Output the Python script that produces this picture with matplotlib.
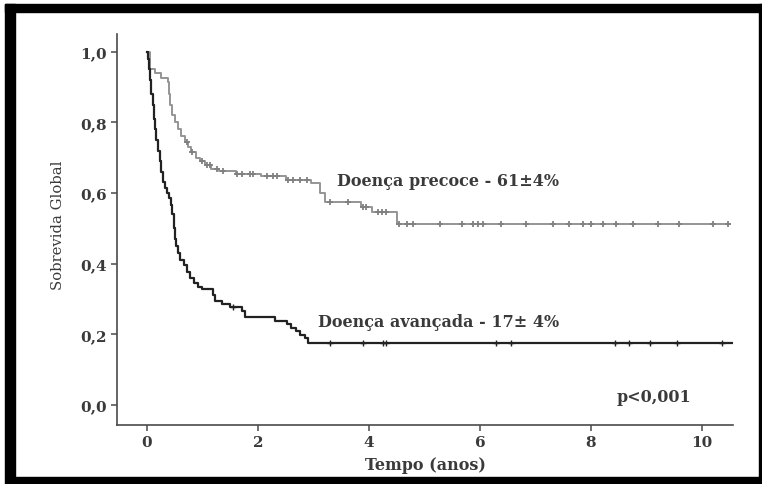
import numpy as np
import matplotlib.pyplot as plt
from matplotlib.patches import Rectangle

### data ###
# Doenca precoce (gray curve): step times (anos) and survival after each step
prec_t = [0.0, 0.05, 0.15, 0.25, 0.38, 0.40, 0.42, 0.45, 0.50, 0.56, 0.62, 0.68, 0.74, 0.80, 0.88,
          0.95, 1.05, 1.15, 1.30, 1.60, 2.05, 2.50, 2.95, 3.12, 3.20, 3.85, 4.05, 4.50, 10.5]
prec_s = [1.0, 0.95, 0.94, 0.925, 0.915, 0.88, 0.85, 0.82, 0.80, 0.78, 0.76, 0.745, 0.73, 0.717, 0.70,
          0.69, 0.68, 0.668, 0.662, 0.655, 0.648, 0.636, 0.628, 0.60, 0.575, 0.56, 0.547, 0.513, 0.513]
prec_cens = [0.72, 0.81, 0.99, 1.08, 1.14, 1.26, 1.37, 1.62, 1.71, 1.86, 1.91, 2.16, 2.27, 2.34, 2.54,
             2.63, 2.76, 2.88, 3.30, 3.62, 3.90, 3.95, 4.16, 4.23, 4.30, 4.54, 4.68, 4.79, 5.28, 5.68,
             5.87, 5.96, 6.05, 6.38, 6.83, 7.32, 7.60, 7.86, 8.00, 8.22, 8.45, 8.76, 9.21, 9.59, 10.2, 10.47]

# Doenca avancada (black curve)
avan_t = [0.0, 0.02, 0.04, 0.06, 0.08, 0.10, 0.12, 0.14, 0.17, 0.20, 0.23, 0.26, 0.29, 0.32, 0.36,
          0.40, 0.44, 0.46, 0.48, 0.50, 0.53, 0.56, 0.60, 0.66, 0.72, 0.78, 0.85, 0.92, 1.00, 1.19,
          1.23, 1.35, 1.50, 1.72, 1.77, 2.30, 2.52, 2.60, 2.68, 2.76, 2.84, 2.90, 10.56]
avan_s = [1.0, 0.98, 0.95, 0.92, 0.88, 0.85, 0.81, 0.78, 0.75, 0.72, 0.69, 0.66, 0.63, 0.615, 0.60,
          0.585, 0.565, 0.54, 0.50, 0.47, 0.45, 0.43, 0.41, 0.395, 0.377, 0.36, 0.345, 0.335, 0.328, 0.31,
          0.295, 0.286, 0.278, 0.265, 0.25, 0.238, 0.228, 0.218, 0.208, 0.198, 0.188, 0.176, 0.176]
avan_cens = [1.55, 3.30, 3.90, 4.25, 4.30, 6.29, 6.56, 8.43, 8.68, 9.06, 9.55, 10.36]

xticks = [0, 2, 4, 6, 8, 10]
yticks = [0.0, 0.2, 0.4, 0.6, 0.8, 1.0]
ylabels = ['0,0', '0,2', '0,4', '0,6', '0,8', '1,0']


def step_value(times, surv, t):
    i = np.searchsorted(times, t, side='right') - 1
    return np.array(surv)[i]


### plot ###
plt.rcParams['font.family'] = 'DejaVu Serif'
txtc = '#3a3a3a'

fig = plt.figure(figsize=(7.62, 4.85), dpi=100)
ax = fig.add_axes([117/762, 59/485, 616/762, 391/485])

ax.plot(prec_t, prec_s, drawstyle='steps-post', color='#959595', lw=1.4)
ax.plot(prec_cens, step_value(prec_t, prec_s, prec_cens), '+', color='#808080', ms=5, mew=1.3)
ax.plot(avan_t, avan_s, drawstyle='steps-post', color='#222222', lw=1.6)
ax.plot(avan_cens, step_value(avan_t, avan_s, avan_cens), '+', color='#222222', ms=5, mew=1.0)

ax.text(3.42, 0.635, u'Doen\u00e7a precoce - 61\u00b14%', fontsize=11.5, fontweight='bold', color=txtc, va='center')
ax.text(3.08, 0.235, u'Doen\u00e7a avan\u00e7ada - 17\u00b1 4%', fontsize=11.5, fontweight='bold', color=txtc, va='center')
ax.text(8.47, 0.023, 'p<0,001', fontsize=11.5, fontweight='bold', color=txtc, va='center')

ax.set_xlim(-0.54, 10.56)
ax.set_ylim(-0.057, 1.05)
ax.set_xticks(xticks)
ax.set_yticks(yticks)
ax.set_yticklabels(ylabels)
for sp in ['top', 'right']:
    ax.spines[sp].set_visible(False)
for sp in ['left', 'bottom']:
    ax.spines[sp].set_color('#4a4a4a')
    ax.spines[sp].set_linewidth(1.2)
ax.tick_params(colors='#4a4a4a', labelcolor=txtc, length=4, width=1.1, labelsize=11)
for lab in ax.get_xticklabels() + ax.get_yticklabels():
    lab.set_fontweight('bold')

ax.set_xlabel('Tempo (anos)', fontsize=11.5, fontweight='bold', color=txtc)
ax.set_ylabel('Sobrevida Global', fontsize=10.6, color=txtc)
ax.xaxis.set_label_coords(0.5, -0.08)
ax.yaxis.set_label_coords(-0.085, 0.514)

# black frame around the picture
for (x0, y0, w, h) in [(5, 5, 10, 473), (5, 5, 757, 8), (759, 5, 3, 480), (5, 478, 757, 7)]:
    fig.patches.append(Rectangle((x0/762, 1 - (y0 + h)/485), w/762, h/485,
                                 transform=fig.transFigure, color='black', zorder=10))

fig.savefig('out.png', dpi=100)
